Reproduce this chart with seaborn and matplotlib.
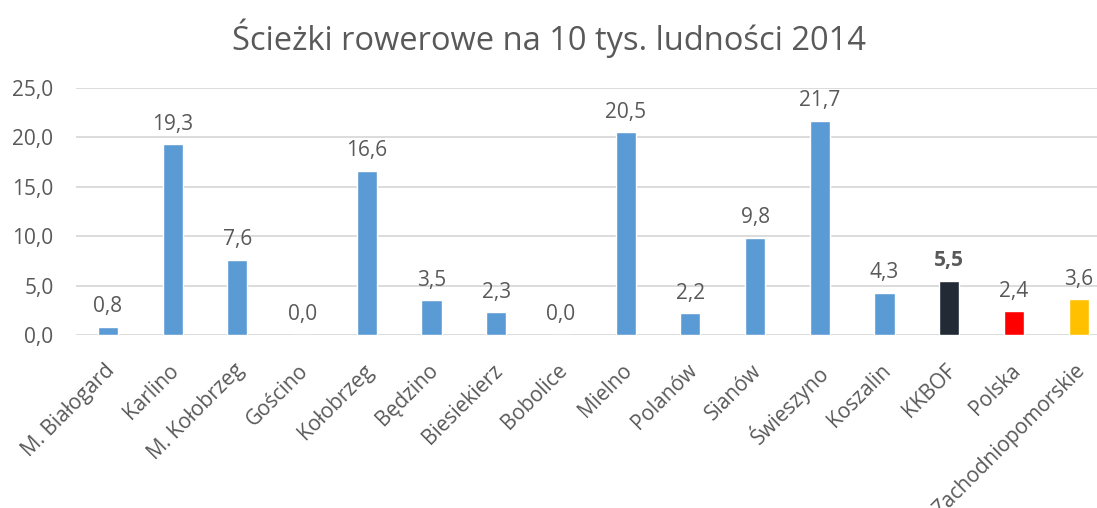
import matplotlib
matplotlib.use("Agg")
import matplotlib.pyplot as plt
import matplotlib.transforms as mtransforms
import seaborn as sns
import pandas as pd

# Bike paths per 10k inhabitants, 2014
gminy = ["M. Białogard", "Karlino", "M. Kołobrzeg", "Gościno", "Kołobrzeg", "Będzino",
         "Biesiekierz", "Bobolice", "Mielno", "Polanów", "Sianów", "Świeszyno",
         "Koszalin", "KKBOF", "Polska", "Zachodniopomorskie"]
wartosci = [0.8, 19.3, 7.6, 0.0, 16.6, 3.5, 2.3, 0.0, 20.5, 2.2, 9.8, 21.7, 4.3, 5.5, 2.4, 3.6]
kolory = ["#5B9BD5"] * 13 + ["#222A35", "#FF0000", "#FFC000"]
y_ticks = [0, 5, 10, 15, 20, 25]

df = pd.DataFrame({"gmina": gminy, "wartosc": wartosci})

sns.set_theme(style="white")
plt.rcParams["font.family"] = ["Open Sans", "DejaVu Sans"]
txt = "#595959"

fig = plt.figure(figsize=(10.97, 5.08), dpi=100)
ax = fig.add_axes([75.6 / 1097, 1 - 335 / 508, (1111 - 75.6) / 1097, (335 - 88) / 508])

sns.barplot(data=df, x="gmina", y="wartosc", hue="gmina", palette=kolory,
            legend=False, width=0.31, ax=ax, saturation=1, zorder=3)

ax.set_ylim(0, 25)
ax.set_xlim(-0.5, len(gminy) - 0.5)
ax.set_yticks(y_ticks)
ax.set_yticklabels([f"{v:.1f}".replace(".", ",") for v in y_ticks], fontsize=15, color=txt)
ax.yaxis.grid(True, color="#D9D9D9", linewidth=1.3, zorder=0)
ax.set_axisbelow(True)
for s in ax.spines.values():
    s.set_visible(False)
ax.tick_params(axis="both", length=0)
ax.tick_params(axis="y", pad=16)
ax.set_xlabel("")
ax.set_ylabel("")
ax.set_xticks(range(len(gminy)))
ax.set_xticklabels(gminy, rotation=45, ha="right", rotation_mode="anchor",
                   fontsize=15, color=txt)
ax.tick_params(axis="x", pad=18)
shift = mtransforms.ScaledTranslation(-4 / 100, 0, fig.dpi_scale_trans)
for lab in ax.get_xticklabels():
    lab.set_transform(lab.get_transform() + shift)

for i, v in enumerate(wartosci):
    ax.annotate(f"{v:.1f}".replace(".", ","), (i, v), xytext=(0, 7),
                textcoords="offset points", ha="center", va="bottom",
                fontsize=15, color=txt,
                fontweight="bold" if gminy[i] == "KKBOF" else "normal")

fig.text(0.5, 1 - 38 / 508, "Ścieżki rowerowe na 10 tys. ludności 2014",
         ha="center", va="center", fontsize=23.5, color=txt)

fig.savefig("out.png", dpi=100)
